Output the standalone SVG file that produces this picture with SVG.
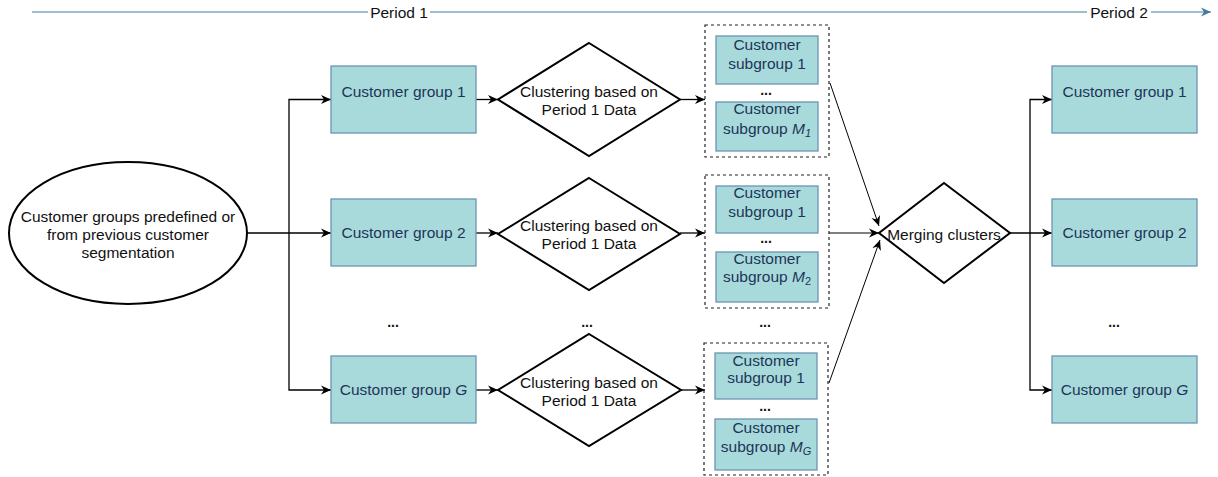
<svg xmlns="http://www.w3.org/2000/svg" width="1218" height="477" viewBox="0 0 1218 477">
<style>
text{font-family:"Liberation Sans",Arial,sans-serif;font-size:15.5px;text-anchor:middle;fill:#111}
.box{fill:#A8DADC;stroke:#6b95b2;stroke-width:1.3}
.bt{fill:#1D3557}
.dia{fill:#fff;stroke:#000;stroke-width:2}
.cont{fill:none;stroke:#222;stroke-width:1.2;stroke-dasharray:3 3}
.c{fill:none;stroke:#000;stroke-width:1.3}
.thin{fill:none;stroke:#000;stroke-width:1}
.dots{font-weight:bold;font-size:14px}
</style>
<defs>
<marker id="a" markerUnits="userSpaceOnUse" markerWidth="12" markerHeight="10" refX="10" refY="5" orient="auto"><path d="M0,0.5 L10,5 L0,9.5 L3,5 z" fill="#000"/></marker>
<marker id="ab" markerUnits="userSpaceOnUse" markerWidth="12" markerHeight="10" refX="10" refY="5" orient="auto"><path d="M0,0.5 L10,5 L0,9.5 L3,5 z" fill="#457B9D"/></marker>
</defs>

<g id="timeline">
<path d="M32,12 H1211" fill="none" stroke="#457B9D" stroke-width="1.2" marker-end="url(#ab)"/>
<rect x="368" y="3" width="62" height="18" fill="#fff"/>
<text x="399" y="18">Period 1</text>
<rect x="1087" y="3" width="64" height="18" fill="#fff"/>
<text x="1119" y="18">Period 2</text>
</g>

<g id="connectors">
<path class="c" d="M247,233 H331" marker-end="url(#a)"/>
<path class="c" d="M289,233 V99.5 H331" marker-end="url(#a)"/>
<path class="c" d="M289,233 V390 H331" marker-end="url(#a)"/>
<path class="c" d="M476,99.5 H498" marker-end="url(#a)"/>
<path class="c" d="M476,233 H498" marker-end="url(#a)"/>
<path class="c" d="M476,390 H498" marker-end="url(#a)"/>
<path class="c" d="M680,99.5 H705" marker-end="url(#a)"/>
<path class="c" d="M680,233 H705" marker-end="url(#a)"/>
<path class="c" d="M680,390 H705" marker-end="url(#a)"/>
<path class="thin" d="M830,83 L879,226" marker-end="url(#a)"/>
<path class="thin" d="M829,233 H879" marker-end="url(#a)"/>
<path class="thin" d="M829,383 L880,240" marker-end="url(#a)"/>
<path class="c" d="M1010,233 H1052" marker-end="url(#a)"/>
<path class="c" d="M1030,233 V99.5 H1052" marker-end="url(#a)"/>
<path class="c" d="M1030,233 V390 H1052" marker-end="url(#a)"/>
</g>

<g id="source">
<ellipse cx="128" cy="233" rx="119" ry="71" fill="#fff" stroke="#000" stroke-width="2"/>
<text x="128" y="222">Customer groups predefined or</text>
<text x="128" y="240">from previous customer</text>
<text x="128" y="258">segmentation</text>
</g>

<g id="group1">
<rect class="box" x="331" y="66" width="145" height="67"/>
<text class="bt" x="403.5" y="97">Customer group 1</text>
</g>
<g id="group2">
<rect class="box" x="331" y="199" width="145" height="67"/>
<text class="bt" x="403.5" y="238">Customer group 2</text>
</g>
<g id="groupG">
<rect class="box" x="331" y="356" width="145" height="67"/>
<text class="bt" x="403.5" y="395">Customer group <tspan font-style="italic">G</tspan></text>
</g>
<g id="dots-left"><text class="dots" x="393" y="327">...</text></g>

<g id="cluster1">
<path class="dia" d="M589,43 L680,99.5 L589,156 L498,99.5 Z"/>
<text x="589" y="97">Clustering based on</text>
<text x="589" y="115">Period 1 Data</text>
</g>
<g id="cluster2">
<path class="dia" d="M589,178 L680,234 L589,290 L498,234 Z"/>
<text x="589" y="231">Clustering based on</text>
<text x="589" y="249">Period 1 Data</text>
</g>
<g id="clusterG">
<path class="dia" d="M589,334 L681,390 L589,446 L498,390 Z"/>
<text x="589" y="388">Clustering based on</text>
<text x="589" y="406">Period 1 Data</text>
</g>
<g id="dots-mid"><text class="dots" x="587" y="327">...</text></g>

<g id="subgroups1">
<rect class="cont" x="705" y="25" width="124" height="132"/>
<rect class="box" x="716" y="36" width="102" height="48"/>
<text class="bt" x="767" y="50">Customer</text>
<text class="bt" x="767" y="69">subgroup 1</text>
<text class="dots" x="766" y="95">...</text>
<rect class="box" x="716" y="102" width="102" height="49"/>
<text class="bt" x="767" y="114">Customer</text>
<text class="bt" x="767" y="134">subgroup <tspan font-style="italic">M</tspan><tspan font-style="italic" font-size="11" dy="3">1</tspan></text>
</g>
<g id="subgroups2">
<rect class="cont" x="705" y="175" width="124" height="133"/>
<rect class="box" x="716" y="186" width="102" height="47"/>
<text class="bt" x="767" y="198">Customer</text>
<text class="bt" x="767" y="217">subgroup 1</text>
<text class="dots" x="766" y="243">...</text>
<rect class="box" x="716" y="252" width="102" height="50"/>
<text class="bt" x="767" y="264">Customer</text>
<text class="bt" x="767" y="282">subgroup <tspan font-style="italic">M</tspan><tspan font-size="11" dy="3">2</tspan></text>
</g>
<g id="subgroupsG">
<rect class="cont" x="704" y="343" width="124" height="132"/>
<rect class="box" x="715" y="353" width="102" height="46"/>
<text class="bt" x="766" y="366">Customer</text>
<text class="bt" x="766" y="383">subgroup 1</text>
<text class="dots" x="765" y="411">...</text>
<rect class="box" x="715" y="419" width="102" height="51"/>
<text class="bt" x="766" y="433">Customer</text>
<text class="bt" x="766" y="452">subgroup <tspan font-style="italic">M</tspan><tspan font-style="italic" font-size="11" dy="3">G</tspan></text>
</g>
<g id="dots-sub"><text class="dots" x="765" y="327">...</text></g>

<g id="merge">
<path class="dia" d="M944,183 L1010,233 L944,283 L879,233 Z"/>
<text x="944" y="240">Merging clusters</text>
</g>

<g id="out1">
<rect class="box" x="1052" y="66" width="145" height="67"/>
<text class="bt" x="1124.5" y="97">Customer group 1</text>
</g>
<g id="out2">
<rect class="box" x="1052" y="199" width="145" height="67"/>
<text class="bt" x="1124.5" y="238">Customer group 2</text>
</g>
<g id="outG">
<rect class="box" x="1052" y="356" width="145" height="67"/>
<text class="bt" x="1124.5" y="395">Customer group <tspan font-style="italic">G</tspan></text>
</g>
<g id="dots-right"><text class="dots" x="1114" y="327">...</text></g>
</svg>
